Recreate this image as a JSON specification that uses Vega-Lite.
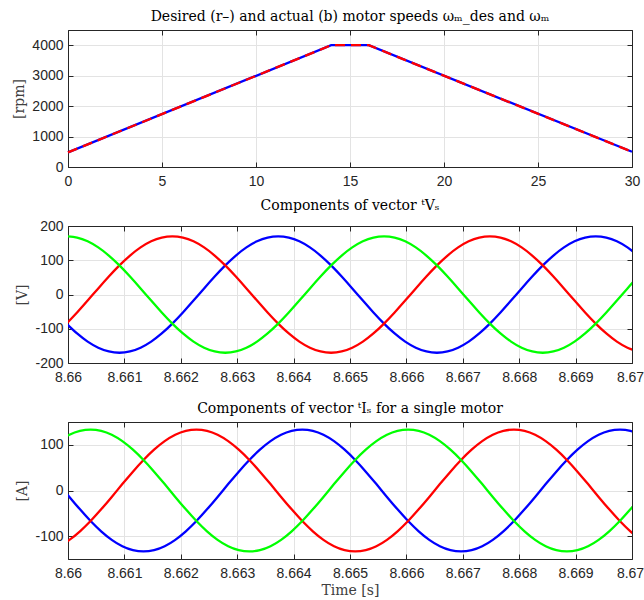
{
  "$schema": "https://vega.github.io/schema/vega-lite/v6.json",
  "autosize": {"type": "pad"},
  "padding": {"left": 12, "top": 9, "right": 0, "bottom": 0},
  "background": "white",
  "spacing": 59,
  "bounds": "flush",
  "config": {
    "view": {"stroke": "#262626", "strokeWidth": 1},
    "axis": {
      "labelFont": "Liberation Sans",
      "labelFontSize": 14,
      "labelColor": "#262626",
      "titleFont": "DejaVu Serif",
      "titleFontSize": 14,
      "titleFontWeight": "normal",
      "titleColor": "#404040",
      "titlePadding": 5,
      "domainColor": "#262626",
      "tickColor": "#262626",
      "tickSize": -5,
      "gridColor": "#e3e3e3",
      "gridWidth": 1,
      "labelFlush": false,
      "labelOverlap": false,
      "labelExpr": "replace(datum.label, '−', '-')"
    },
    "axisX": {"labelPadding": 12},
    "axisY": {"labelPadding": 10},
    "title": {"font": "DejaVu Serif", "fontSize": 14, "fontWeight": "normal", "color": "#000000", "offset": 6}
  },
  "datasets": {
    "speed": [
      {"t": 0, "v": 480, "s": "act"},
      {"t": 14, "v": 4000, "s": "act"},
      {"t": 16, "v": 4000, "s": "act"},
      {"t": 30, "v": 500, "s": "act"},
      {"t": 0, "v": 480, "s": "des"},
      {"t": 14, "v": 4000, "s": "des"},
      {"t": 16, "v": 4000, "s": "des"},
      {"t": 30, "v": 500, "s": "des"}
    ],
    "volt": [
      {"t": 8.6599733, "r": -85, "b": -85, "g": 170},
      {"t": 8.660161, "r": -52.5, "b": -113.7, "g": 166.3},
      {"t": 8.6603486, "r": -17.8, "b": -137.5, "g": 155.3},
      {"t": 8.6605363, "r": 17.8, "b": -155.3, "g": 137.5},
      {"t": 8.660724, "r": 52.5, "b": -166.3, "g": 113.7},
      {"t": 8.6609117, "r": 85, "b": -170, "g": 85},
      {"t": 8.6610993, "r": 113.7, "b": -166.3, "g": 52.5},
      {"t": 8.661287, "r": 137.5, "b": -155.3, "g": 17.8},
      {"t": 8.6614747, "r": 155.3, "b": -137.5, "g": -17.8},
      {"t": 8.6616623, "r": 166.3, "b": -113.7, "g": -52.5},
      {"t": 8.66185, "r": 170, "b": -85, "g": -85},
      {"t": 8.6620377, "r": 166.3, "b": -52.5, "g": -113.7},
      {"t": 8.6622253, "r": 155.3, "b": -17.8, "g": -137.5},
      {"t": 8.662413, "r": 137.5, "b": 17.8, "g": -155.3},
      {"t": 8.6626007, "r": 113.7, "b": 52.5, "g": -166.3},
      {"t": 8.6627884, "r": 85, "b": 85, "g": -170},
      {"t": 8.662976, "r": 52.5, "b": 113.7, "g": -166.3},
      {"t": 8.6631637, "r": 17.8, "b": 137.5, "g": -155.3},
      {"t": 8.6633514, "r": -17.8, "b": 155.3, "g": -137.5},
      {"t": 8.663539, "r": -52.5, "b": 166.3, "g": -113.7},
      {"t": 8.6637267, "r": -85, "b": 170, "g": -85},
      {"t": 8.6639144, "r": -113.7, "b": 166.3, "g": -52.5},
      {"t": 8.664102, "r": -137.5, "b": 155.3, "g": -17.8},
      {"t": 8.6642897, "r": -155.3, "b": 137.5, "g": 17.8},
      {"t": 8.6644774, "r": -166.3, "b": 113.7, "g": 52.5},
      {"t": 8.6646651, "r": -170, "b": 85, "g": 85},
      {"t": 8.6648527, "r": -166.3, "b": 52.5, "g": 113.7},
      {"t": 8.6650404, "r": -155.3, "b": 17.8, "g": 137.5},
      {"t": 8.6652281, "r": -137.5, "b": -17.8, "g": 155.3},
      {"t": 8.6654157, "r": -113.7, "b": -52.5, "g": 166.3},
      {"t": 8.6656034, "r": -85, "b": -85, "g": 170},
      {"t": 8.6657911, "r": -52.5, "b": -113.7, "g": 166.3},
      {"t": 8.6659787, "r": -17.8, "b": -137.5, "g": 155.3},
      {"t": 8.6661664, "r": 17.8, "b": -155.3, "g": 137.5},
      {"t": 8.6663541, "r": 52.5, "b": -166.3, "g": 113.7},
      {"t": 8.6665418, "r": 85, "b": -170, "g": 85},
      {"t": 8.6667294, "r": 113.7, "b": -166.3, "g": 52.5},
      {"t": 8.6669171, "r": 137.5, "b": -155.3, "g": 17.8},
      {"t": 8.6671048, "r": 155.3, "b": -137.5, "g": -17.8},
      {"t": 8.6672924, "r": 166.3, "b": -113.7, "g": -52.5},
      {"t": 8.6674801, "r": 170, "b": -85, "g": -85},
      {"t": 8.6676678, "r": 166.3, "b": -52.5, "g": -113.7},
      {"t": 8.6678554, "r": 155.3, "b": -17.8, "g": -137.5},
      {"t": 8.6680431, "r": 137.5, "b": 17.8, "g": -155.3},
      {"t": 8.6682308, "r": 113.7, "b": 52.5, "g": -166.3},
      {"t": 8.6684185, "r": 85, "b": 85, "g": -170},
      {"t": 8.6686061, "r": 52.5, "b": 113.7, "g": -166.3},
      {"t": 8.6687938, "r": 17.8, "b": 137.5, "g": -155.3},
      {"t": 8.6689815, "r": -17.8, "b": 155.3, "g": -137.5},
      {"t": 8.6691691, "r": -52.5, "b": 166.3, "g": -113.7},
      {"t": 8.6693568, "r": -85, "b": 170, "g": -85},
      {"t": 8.6695445, "r": -113.7, "b": 166.3, "g": -52.5},
      {"t": 8.6697321, "r": -137.5, "b": 155.3, "g": -17.8},
      {"t": 8.6699198, "r": -155.3, "b": 137.5, "g": 17.8},
      {"t": 8.6701075, "r": -166.3, "b": 113.7, "g": 52.5}
    ],
    "curr": [
      {"t": 8.6598373, "r": -122.0, "b": 14.0, "g": 108.0},
      {"t": 8.660025, "r": -108.0, "b": -14.0, "g": 122.0},
      {"t": 8.6602126, "r": -89.3, "b": -41.3, "g": 130.6},
      {"t": 8.6604003, "r": -66.8, "b": -66.8, "g": 133.5},
      {"t": 8.660588, "r": -41.3, "b": -89.3, "g": 130.6},
      {"t": 8.6607756, "r": -14.0, "b": -108.0, "g": 122.0},
      {"t": 8.6609633, "r": 14.0, "b": -122.0, "g": 108.0},
      {"t": 8.661151, "r": 41.3, "b": -130.6, "g": 89.3},
      {"t": 8.6613387, "r": 66.8, "b": -133.5, "g": 66.8},
      {"t": 8.6615263, "r": 89.3, "b": -130.6, "g": 41.3},
      {"t": 8.661714, "r": 108.0, "b": -122.0, "g": 14.0},
      {"t": 8.6619017, "r": 122.0, "b": -108.0, "g": -14.0},
      {"t": 8.6620893, "r": 130.6, "b": -89.3, "g": -41.3},
      {"t": 8.662277, "r": 133.5, "b": -66.8, "g": -66.8},
      {"t": 8.6624647, "r": 130.6, "b": -41.3, "g": -89.3},
      {"t": 8.6626523, "r": 122.0, "b": -14.0, "g": -108.0},
      {"t": 8.66284, "r": 108.0, "b": 14.0, "g": -122.0},
      {"t": 8.6630277, "r": 89.3, "b": 41.3, "g": -130.6},
      {"t": 8.6632154, "r": 66.8, "b": 66.8, "g": -133.5},
      {"t": 8.663403, "r": 41.3, "b": 89.3, "g": -130.6},
      {"t": 8.6635907, "r": 14.0, "b": 108.0, "g": -122.0},
      {"t": 8.6637784, "r": -14.0, "b": 122.0, "g": -108.0},
      {"t": 8.663966, "r": -41.3, "b": 130.6, "g": -89.3},
      {"t": 8.6641537, "r": -66.8, "b": 133.5, "g": -66.8},
      {"t": 8.6643414, "r": -89.3, "b": 130.6, "g": -41.3},
      {"t": 8.664529, "r": -108.0, "b": 122.0, "g": -14.0},
      {"t": 8.6647167, "r": -122.0, "b": 108.0, "g": 14.0},
      {"t": 8.6649044, "r": -130.6, "b": 89.3, "g": 41.3},
      {"t": 8.6650921, "r": -133.5, "b": 66.8, "g": 66.8},
      {"t": 8.6652797, "r": -130.6, "b": 41.3, "g": 89.3},
      {"t": 8.6654674, "r": -122.0, "b": 14.0, "g": 108.0},
      {"t": 8.6656551, "r": -108.0, "b": -14.0, "g": 122.0},
      {"t": 8.6658427, "r": -89.3, "b": -41.3, "g": 130.6},
      {"t": 8.6660304, "r": -66.8, "b": -66.8, "g": 133.5},
      {"t": 8.6662181, "r": -41.3, "b": -89.3, "g": 130.6},
      {"t": 8.6664057, "r": -14.0, "b": -108.0, "g": 122.0},
      {"t": 8.6665934, "r": 14.0, "b": -122.0, "g": 108.0},
      {"t": 8.6667811, "r": 41.3, "b": -130.6, "g": 89.3},
      {"t": 8.6669688, "r": 66.8, "b": -133.5, "g": 66.8},
      {"t": 8.6671564, "r": 89.3, "b": -130.6, "g": 41.3},
      {"t": 8.6673441, "r": 108.0, "b": -122.0, "g": 14.0},
      {"t": 8.6675318, "r": 122.0, "b": -108.0, "g": -14.0},
      {"t": 8.6677194, "r": 130.6, "b": -89.3, "g": -41.3},
      {"t": 8.6679071, "r": 133.5, "b": -66.8, "g": -66.8},
      {"t": 8.6680948, "r": 130.6, "b": -41.3, "g": -89.3},
      {"t": 8.6682824, "r": 122.0, "b": -14.0, "g": -108.0},
      {"t": 8.6684701, "r": 108.0, "b": 14.0, "g": -122.0},
      {"t": 8.6686578, "r": 89.3, "b": 41.3, "g": -130.6},
      {"t": 8.6688455, "r": 66.8, "b": 66.8, "g": -133.5},
      {"t": 8.6690331, "r": 41.3, "b": 89.3, "g": -130.6},
      {"t": 8.6692208, "r": 14.0, "b": 108.0, "g": -122.0},
      {"t": 8.6694085, "r": -14.0, "b": 122.0, "g": -108.0},
      {"t": 8.6695961, "r": -41.3, "b": 130.6, "g": -89.3},
      {"t": 8.6697838, "r": -66.8, "b": 133.5, "g": -66.8},
      {"t": 8.6699715, "r": -89.3, "b": 130.6, "g": -41.3},
      {"t": 8.6701591, "r": -108.0, "b": 122.0, "g": -14.0}
    ]
  },
  "vconcat": [
    {
      "width": 564, "height": 137,
      "title": {"text": "Desired (r–) and actual (b) motor speeds ωₘ_des and ωₘ"},
      "data": {"name": "speed"},
      "layer": [
        {
          "transform": [{"filter": "datum.s == 'act'"}],
          "mark": {"type": "line", "color": "#0000ff", "strokeWidth": 2.3},
          "encoding": {
            "x": {"field": "t", "type": "quantitative", "scale": {"domain": [0, 30], "nice": false},
                  "axis": {"values": [0, 5, 10, 15, 20, 25, 30], "title": null}},
            "y": {"field": "v", "type": "quantitative", "scale": {"domain": [0, 4500], "nice": false},
                  "axis": {"values": [0, 1000, 2000, 3000, 4000], "format": "d", "title": "[rpm]"}}
          }
        },
        {
          "transform": [{"filter": "datum.s == 'des'"}],
          "mark": {"type": "line", "color": "#ff0000", "strokeWidth": 2.3, "strokeDash": [10, 6]},
          "encoding": {
            "x": {"field": "t", "type": "quantitative", "axis": {"orient": "top", "values": [0, 5, 10, 15, 20, 25, 30], "labels": false, "grid": false, "title": null}},
            "y": {"field": "v", "type": "quantitative", "axis": {"orient": "right", "values": [0, 1000, 2000, 3000, 4000], "labels": false, "grid": false, "title": null}}
          }
        }
      ],
      "resolve": {"axis": {"x": "independent", "y": "independent"}}
    },
    {
      "width": 564, "height": 137,
      "title": {"text": "Components of vector ᵗVₛ"},
      "data": {"name": "volt"},
      "transform": [{"fold": ["b", "r", "g"], "as": ["ph", "val"]}],
      "layer": [
        {
          "mark": {"type": "line", "strokeWidth": 2.3, "clip": true, "interpolate": "natural"},
          "encoding": {
            "x": {"field": "t", "type": "quantitative", "scale": {"domain": [8.66, 8.67], "nice": false, "zero": false},
                  "axis": {"values": [8.66, 8.661, 8.662, 8.663, 8.664, 8.665, 8.666, 8.667, 8.668, 8.669, 8.67], "format": ".4~f", "title": null,
                           "labelOffset": {"condition": {"test": "datum.value > 8.6695", "value": -2}, "value": 0}}},
            "y": {"field": "val", "type": "quantitative", "scale": {"domain": [-200, 200], "nice": false},
                  "axis": {"values": [-200, -100, 0, 100, 200], "title": "[V]"}},
            "color": {"field": "ph", "type": "nominal", "scale": {"domain": ["r", "b", "g"], "range": ["#ff0000", "#0000ff", "#00ff00"]}, "legend": null},
            "detail": {"field": "ph"}
          }
        },
        {
          "mark": {"type": "line", "opacity": 0, "clip": true},
          "encoding": {
            "x": {"field": "t", "type": "quantitative", "axis": {"orient": "top", "values": [8.66, 8.661, 8.662, 8.663, 8.664, 8.665, 8.666, 8.667, 8.668, 8.669, 8.67], "labels": false, "grid": false, "title": null}},
            "y": {"field": "val", "type": "quantitative", "axis": {"orient": "right", "values": [-200, -100, 0, 100, 200], "labels": false, "grid": false, "title": null}},
            "detail": {"field": "ph"}
          }
        }
      ],
      "resolve": {"axis": {"x": "independent", "y": "independent"}}
    },
    {
      "width": 564, "height": 137,
      "title": {"text": "Components of vector ᵗIₛ for a single motor"},
      "data": {"name": "curr"},
      "transform": [{"fold": ["b", "r", "g"], "as": ["ph", "val"]}],
      "layer": [
        {
          "mark": {"type": "line", "strokeWidth": 2.3, "clip": true, "interpolate": "natural"},
          "encoding": {
            "x": {"field": "t", "type": "quantitative", "scale": {"domain": [8.66, 8.67], "nice": false, "zero": false},
                  "axis": {"values": [8.66, 8.661, 8.662, 8.663, 8.664, 8.665, 8.666, 8.667, 8.668, 8.669, 8.67], "format": ".4~f", "title": "Time [s]", "titlePadding": 3,
                           "labelOffset": {"condition": {"test": "datum.value > 8.6695", "value": -2}, "value": 0}}},
            "y": {"field": "val", "type": "quantitative", "scale": {"domain": [-150, 150], "nice": false},
                  "axis": {"values": [-100, 0, 100], "title": "[A]"}},
            "color": {"field": "ph", "type": "nominal", "scale": {"domain": ["r", "b", "g"], "range": ["#ff0000", "#0000ff", "#00ff00"]}, "legend": null},
            "detail": {"field": "ph"}
          }
        },
        {
          "mark": {"type": "line", "opacity": 0, "clip": true},
          "encoding": {
            "x": {"field": "t", "type": "quantitative", "axis": {"orient": "top", "values": [8.66, 8.661, 8.662, 8.663, 8.664, 8.665, 8.666, 8.667, 8.668, 8.669, 8.67], "labels": false, "grid": false, "title": null}},
            "y": {"field": "val", "type": "quantitative", "axis": {"orient": "right", "values": [-100, 0, 100], "labels": false, "grid": false, "title": null}},
            "detail": {"field": "ph"}
          }
        }
      ],
      "resolve": {"axis": {"x": "independent", "y": "independent"}}
    }
  ]
}
